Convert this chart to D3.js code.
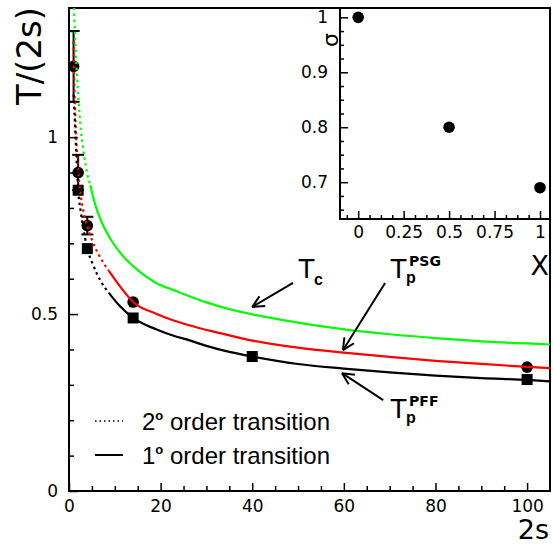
<!DOCTYPE html>
<html><head><meta charset="utf-8">
<script src="https://cdn.jsdelivr.net/npm/d3@7"></script>
<style>body{margin:0;background:#fff}</style>
</head><body><svg id="c" width="553" height="546"></svg>
<script>
// ---------- data ----------
const circleX = [1, 2, 4, 14, 100];
const circleY = [1.20, 0.90, 0.75, 0.534, 0.350];
const circleErr = [0.10, 0.05, 0.025, 0, 0];
const squareX = [2, 4, 14, 40, 100];
const squareY = [0.850, 0.685, 0.489, 0.380, 0.315];

// T_c (green)
const tcDotted = [[1.0,1.40],[1.1,1.365],[1.3,1.29],[1.5,1.235],[1.75,1.175],[2,1.12],[2.3,1.065],[2.6,1.02],[3,0.977],[3.4,0.94],[3.9,0.903],[4.65,0.864]];
const tcSolid = [[4.65,0.864],[5.75,0.808],[7.2,0.758],[9.4,0.705],[11.5,0.668],[15,0.624],[19,0.588],[23,0.567],[30,0.533],[35,0.514],[42,0.494],[50,0.476],[60,0.457],[70,0.443],[80,0.432],[90,0.423],[105,0.414]];
// T_p^PSG (red)
const psgDotted = [[0.98,1.27],[1.0,1.25],[1.2,1.13],[1.5,1.02],[2,0.905],[2.5,0.84],[3,0.80],[4,0.748],[5,0.71],[6,0.68],[7,0.656],[8,0.635],[8.7,0.622]];
const psgSolid = [[8.7,0.622],[11.5,0.572],[14,0.534],[19,0.501],[23,0.481],[26,0.469],[33,0.446],[40,0.425],[50,0.405],[60,0.391],[70,0.379],[80,0.368],[90,0.359],[100,0.351],[105,0.347]];
// T_p^PFF (black)
const pffDotted = [[1.0,1.12],[1.3,1.04],[1.6,0.95],[2,0.85],[2.5,0.795],[3,0.752],[4,0.685],[5.3,0.638],[6.8,0.596],[7.7,0.577],[8.7,0.56]];
const pffSolid = [[8.7,0.56],[11,0.524],[14,0.489],[19,0.457],[23,0.438],[26,0.427],[30,0.41],[35,0.393],[40,0.38],[50,0.359],[60,0.346],[70,0.335],[80,0.326],[90,0.319],[100,0.314],[105,0.31]];

// inset
const insetX = [0, 0.5, 1];
const insetSigma = [1.0, 0.80, 0.69];

// ticks
const xMajor = [0, 20, 40, 60, 80, 100];
const yMajor = [0, 0.5, 1];
const insetXMajor = [0, 0.25, 0.5, 0.75, 1];
const insetYMajor = [0.7, 0.8, 0.9, 1];

// annotations (data coordinates)
const annSub = ["c", "p", "p"];
const annSup = ["", "PSG", "PFF"];
const annX = [50.0, 70.1, 70.1];
const annY = [0.602, 0.602, 0.206];
const arrowFrom = [[48.9, 0.588], [69.0, 0.588], [68.6, 0.257]];
const arrowTo = [[40.0, 0.520], [59.8, 0.398], [59.6, 0.333]];

const legendLabels = ["2", "1"];
const legendRest = " order transition";

// ---------- drawing ----------
const svg = d3.select("#c");
const NUM = "DejaVu Sans, sans-serif";
const TXT = "Liberation Sans, Arial, sans-serif";

const x = d3.scaleLinear().domain([0, 105]).range([69, 550]);
const y = d3.scaleLinear().domain([0, 1.365]).range([491, 8]);

svg.append("defs").append("clipPath").attr("id", "clip")
  .append("rect").attr("x", 69).attr("y", 8).attr("width", 481).attr("height", 483);

// frame
svg.append("rect").attr("x", 69).attr("y", 8).attr("width", 481).attr("height", 483)
  .attr("fill", "none").attr("stroke", "#000").attr("stroke-width", 2);

function styleAxis(g, fs) {
  g.select(".domain").remove();
  g.selectAll(".tick line").attr("stroke", "#000").attr("stroke-width", 1.5);
  g.selectAll(".tick text").attr("font-family", NUM).attr("font-size", fs).attr("fill", "#000");
}

// main x axis
const gx = svg.append("g").attr("transform", "translate(0,491)")
  .call(d3.axisBottom(x).tickValues(xMajor).tickSize(-8).tickSizeOuter(0).tickPadding(9).tickFormat(d3.format("")));
styleAxis(gx, 17);
const gx2 = svg.append("g").attr("transform", "translate(0,491)")
  .call(d3.axisBottom(x).tickValues(d3.range(5, 105, 5).filter(v => v % 20 !== 0)).tickSize(-5).tickSizeOuter(0).tickFormat(""));
styleAxis(gx2, 17);

// main y axis
const gy = svg.append("g").attr("transform", "translate(69,0)")
  .call(d3.axisLeft(y).tickValues(yMajor).tickSize(-9).tickSizeOuter(0).tickPadding(11).tickFormat(d3.format("")));
styleAxis(gy, 17);
const gy2 = svg.append("g").attr("transform", "translate(69,0)")
  .call(d3.axisLeft(y).tickValues([0.1,0.2,0.3,0.4,0.6,0.7,0.8,0.9,1.1,1.2,1.3]).tickSize(-5).tickSizeOuter(0).tickFormat(""));
styleAxis(gy2, 17);

// axis titles
svg.append("text").attr("transform", "translate(40.5,7) rotate(-90)")
  .attr("text-anchor", "end").attr("font-family", NUM).attr("font-size", 34).text("T/(2s)");
svg.append("text").attr("x", 549).attr("y", 539).attr("text-anchor", "end")
  .attr("font-family", NUM).attr("font-size", 27).text("2s");

// markers
const plot = svg.append("g").attr("clip-path", "url(#clip)");
circleX.forEach((cx, i) => {
  const e = circleErr[i];
  if (e > 0) {
    plot.append("line").attr("x1", x(cx)).attr("x2", x(cx)).attr("y1", y(circleY[i] - e)).attr("y2", y(circleY[i] + e))
      .attr("stroke", "#000").attr("stroke-width", 2);
    [circleY[i] - e, circleY[i] + e].forEach(v => {
      plot.append("line").attr("x1", x(cx) - 6).attr("x2", x(cx) + 6).attr("y1", y(v)).attr("y2", y(v))
        .attr("stroke", "#000").attr("stroke-width", 2);
    });
  }
});
plot.selectAll(".sq").data(squareX).enter().append("rect")
  .attr("x", (d) => x(d) - 5.5).attr("y", (d, i) => y(squareY[i]) - 5.5)
  .attr("width", 11).attr("height", 11).attr("fill", "#000");
plot.selectAll(".ci").data(circleX).enter().append("circle")
  .attr("cx", d => x(d)).attr("cy", (d, i) => y(circleY[i])).attr("r", 5.8).attr("fill", "#000");

// curves
const line = d3.line().x(d => x(d[0])).y(d => y(d[1])).curve(d3.curveMonotoneX);
function curve(data, color, dotted) {
  plot.append("path").datum(data).attr("d", line).attr("fill", "none")
    .attr("stroke", color).attr("stroke-width", 2.2)
    .attr("stroke-dasharray", dotted ? "2.5,3.5" : null);
}
curve(tcDotted, "#00ff00", true);
curve(tcSolid, "#00ff00", false);
curve(psgDotted, "#ff0000", true);
curve(psgSolid, "#ff0000", false);
curve(pffDotted, "#000", true);
curve(pffSolid, "#000", false);

// annotations
annSub.forEach((s, i) => {
  const tx = x(annX[i]), ty = y(annY[i]);
  svg.append("text").attr("x", tx).attr("y", ty).attr("font-family", TXT).attr("font-size", 28).text("T");
  svg.append("text").attr("x", tx + 16).attr("y", ty + (annSup[i] ? 5 : 7)).attr("font-family", TXT)
    .attr("font-weight", "bold").attr("font-size", 16).text(s);
  if (annSup[i]) {
    svg.append("text").attr("x", tx + 19).attr("y", ty - 12).attr("font-family", NUM)
      .attr("font-weight", "bold").attr("font-size", 14).text(annSup[i]);
  }
  const x1 = x(arrowFrom[i][0]), y1 = y(arrowFrom[i][1]);
  const x2 = x(arrowTo[i][0]), y2 = y(arrowTo[i][1]);
  svg.append("line").attr("x1", x1).attr("y1", y1).attr("x2", x2).attr("y2", y2)
    .attr("stroke", "#000").attr("stroke-width", 2);
  const ang = Math.atan2(y1 - y2, x1 - x2);
  [-0.45, 0.45].forEach(da => {
    svg.append("line").attr("x1", x2).attr("y1", y2)
      .attr("x2", x2 + 13 * Math.cos(ang + da)).attr("y2", y2 + 13 * Math.sin(ang + da))
      .attr("stroke", "#000").attr("stroke-width", 2);
  });
});

// legend
const legY = [430, 464];
legendLabels.forEach((lab, i) => {
  svg.append("line").attr("x1", 95).attr("x2", 123).attr("y1", legY[i] - 9).attr("y2", legY[i] - 9)
    .attr("stroke", "#000").attr("stroke-width", i === 0 ? 1.5 : 2)
    .attr("stroke-dasharray", i === 0 ? "1.5,3" : null);
  const t = svg.append("text").attr("x", 142).attr("y", legY[i]).attr("font-family", TXT).attr("font-size", 24);
  t.append("tspan").text(lab);
  t.append("tspan").attr("dy", -10).attr("font-size", 13).attr("font-weight", "bold").text("o");
  t.append("tspan").attr("dy", 10).text(legendRest);
});

// ---------- inset ----------
const ix = d3.scaleLinear().domain([-0.1, 1.055]).range([340, 550]);
const iy = d3.scaleLinear().domain([0.633, 1.017]).range([219, 8]);
svg.append("rect").attr("x", 340).attr("y", 8).attr("width", 210).attr("height", 211)
  .attr("fill", "#fff").attr("stroke", "#000").attr("stroke-width", 2);
const igx = svg.append("g").attr("transform", "translate(0,219)")
  .call(d3.axisBottom(ix).tickValues(insetXMajor).tickSize(-8).tickSizeOuter(0).tickPadding(7).tickFormat(d3.format("")));
styleAxis(igx, 17);
const igx2 = svg.append("g").attr("transform", "translate(0,219)")
  .call(d3.axisBottom(ix).tickValues(d3.range(-1, 17).map(k => k * 0.0625).filter(v => v % 0.25 !== 0)).tickSize(-4).tickSizeOuter(0).tickFormat(""));
styleAxis(igx2, 17);
const igy = svg.append("g").attr("transform", "translate(340,0)")
  .call(d3.axisLeft(iy).tickValues(insetYMajor).tickSize(-8).tickSizeOuter(0).tickPadding(12).tickFormat(d3.format("")));
styleAxis(igy, 17);
const igy2 = svg.append("g").attr("transform", "translate(340,0)")
  .call(d3.axisLeft(iy).tickValues(d3.range(26, 41).map(k => k * 0.025).filter(v => Math.abs(v * 10 - Math.round(v * 10)) > 1e-6)).tickSize(-4).tickSizeOuter(0).tickFormat(""));
styleAxis(igy2, 17);
svg.selectAll(".ipt").data(insetX).enter().append("circle")
  .attr("cx", d => ix(d)).attr("cy", (d, i) => iy(insetSigma[i])).attr("r", 5.8).attr("fill", "#000");
svg.append("text").attr("transform", "translate(338,40) rotate(-90)").attr("text-anchor", "middle")
  .attr("font-family", NUM).attr("font-size", 22).text("σ");
svg.append("text").attr("x", 549).attr("y", 275).attr("text-anchor", "end")
  .attr("font-family", NUM).attr("font-size", 27).text("X");
</script></body></html>
